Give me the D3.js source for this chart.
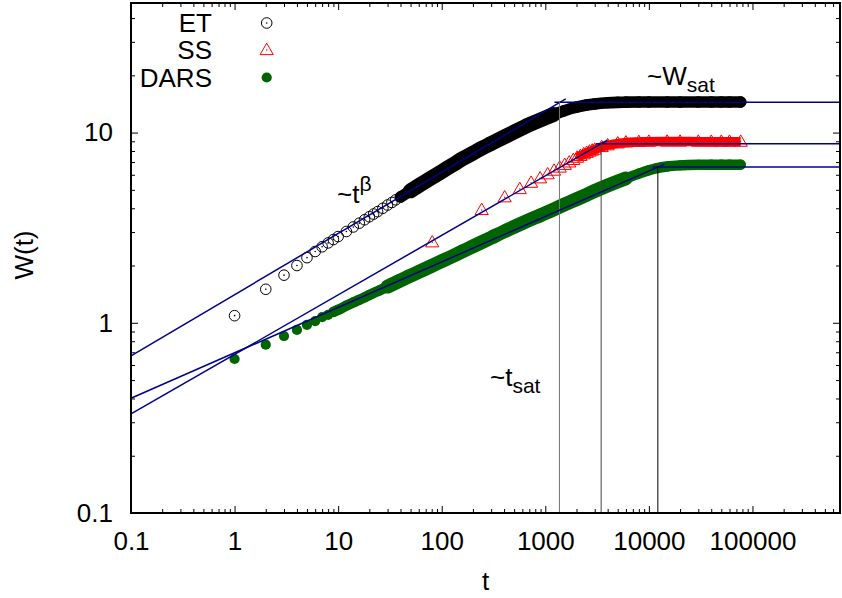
<!DOCTYPE html>
<html>
<head>
<meta charset="utf-8">
<script src="https://cdn.jsdelivr.net/npm/d3@7"></script>
<style>
  body { margin: 0; background: #fff; }
  text { font-family: "Liberation Sans", Arial, sans-serif; }
</style>
</head>
<body>
<div id="chart"></div>
<script>
// ---- data ----
var etT = [1,2,3,4,5,6,7,8,9,10,12,14,16,18,20,22,24,27,30,33,36,40,50,60,80,100,130,160,200,250,300,400,500,600,700,800,1000,1200,1500,2000,2500,3000,4000,5000,6000,8000,10000,15000,20000,30000,40000,50000,60000,77000];
var etW = [1.09,1.50,1.78,2.00,2.20,2.37,2.51,2.63,2.74,2.84,3.02,3.19,3.34,3.48,3.61,3.73,3.84,4.00,4.16,4.29,4.43,4.59,4.94,5.26,5.79,6.24,6.81,7.30,7.80,8.33,8.76,9.48,10.07,10.57,11.0,11.35,11.95,12.45,13.0,13.6,13.95,14.15,14.35,14.42,14.45,14.47,14.48,14.48,14.47,14.48,14.49,14.48,14.48,14.48];

var ssT = [81,243,405,567,729,891,1053,1215,1377,1539,1701,1863,2025,2187,2349,2511,2673,2835,2997,3500,4000,5000,6000,8000,10000,15000,20000,30000,40000,50000,60000,77000];
var ssW = [2.65,3.92,4.57,5.05,5.45,5.75,6.04,6.31,6.55,6.77,6.97,7.18,7.38,7.55,7.70,7.83,7.95,8.05,8.14,8.40,8.58,8.78,8.88,8.93,8.96,8.97,8.97,8.96,8.96,8.96,8.96,8.96];

var darsT = [1,2,3,4,5,6,7,8,9,10,12,14,16,18,20,25,30,40,50,60,80,100,130,160,200,250,300,400,500,600,800,1000,1300,1600,2000,2500,3000,4000,5000,6000,8000,10000,12000,15000,20000,30000,40000,50000,60000,77000];
var darsW = [0.645,0.767,0.852,0.917,0.974,1.02,1.07,1.10,1.14,1.17,1.23,1.28,1.32,1.36,1.40,1.48,1.55,1.67,1.77,1.85,1.99,2.11,2.25,2.38,2.52,2.67,2.80,3.02,3.19,3.34,3.58,3.77,4.02,4.23,4.46,4.71,4.93,5.27,5.53,5.74,6.08,6.33,6.50,6.63,6.72,6.77,6.78,6.78,6.78,6.78];

// power-law fits  W = amp * t^beta  and saturation
var fitAmp  = [1.405, 0.682, 0.695];
var fitBeta = [0.322, 0.313, 0.239];
var tSat    = [1370, 3460, 12200];
var wSat    = [14.43, 8.74, 6.60];

var seriesNames = ["ET", "SS", "DARS"];
var xTicks = [0.1, 1, 10, 100, 1000, 10000, 100000];
var xTickLabels = ["0.1", "1", "10", "100", "1000", "10000", "100000"];
var yTicks = [0.1, 1, 10];
var yTickLabels = ["0.1", "1", "10"];

// ---- chart ----
var width = 842, height = 598;
var padL = 131, padR = 840, padT = 3, padB = 513;
var blue = "#00008b", green = "#006400";

var svg = d3.select("#chart")
  .append("svg")
    .attr("width", width)
    .attr("height", height);

var x = d3.scaleLog().domain([0.1, 7e5]).range([padL, padR]);
var y = d3.scaleLog().domain([0.1, 48]).range([padB, padT]);

// minor tick values
var xMinor = [], yMinor = [];
xTicks.forEach(function(d) {
  for (var k = 2; k < 10; k++) if (d * k < 7e5) xMinor.push(d * k);
});
yTicks.forEach(function(d) {
  for (var k = 2; k < 10; k++) if (d * k < 48) yMinor.push(d * k);
});

function styleAxis(g) {
  g.select(".domain").remove();
  g.selectAll("line").attr("stroke", "#000").attr("stroke-width", 1);
  g.selectAll("text")
    .attr("font-family", "Liberation Sans, Arial, sans-serif")
    .attr("font-size", 26)
    .attr("fill", "#000");
}

// bottom
svg.append("g").attr("transform", "translate(0," + padB + ")")
  .call(d3.axisBottom(x).tickValues(xTicks).tickFormat(function(d, i) { return xTickLabels[i]; })
    .tickSizeInner(-7).tickSizeOuter(0).tickPadding(18.5))
  .call(styleAxis);
svg.append("g").attr("transform", "translate(0," + padB + ")")
  .call(d3.axisBottom(x).tickValues(xMinor).tickFormat("").tickSizeInner(-4).tickSizeOuter(0))
  .call(styleAxis);
// top
svg.append("g").attr("transform", "translate(0," + padT + ")")
  .call(d3.axisTop(x).tickValues(xTicks).tickFormat("").tickSizeInner(-7).tickSizeOuter(0))
  .call(styleAxis);
svg.append("g").attr("transform", "translate(0," + padT + ")")
  .call(d3.axisTop(x).tickValues(xMinor).tickFormat("").tickSizeInner(-4).tickSizeOuter(0))
  .call(styleAxis);
// left
svg.append("g").attr("transform", "translate(" + padL + ",0)")
  .call(d3.axisLeft(y).tickValues(yTicks).tickFormat(function(d, i) { return yTickLabels[i]; })
    .tickSizeInner(-7).tickSizeOuter(0).tickPadding(18))
  .call(styleAxis);
svg.append("g").attr("transform", "translate(" + padL + ",0)")
  .call(d3.axisLeft(y).tickValues(yMinor).tickFormat("").tickSizeInner(-4).tickSizeOuter(0))
  .call(styleAxis);
// right
svg.append("g").attr("transform", "translate(" + padR + ",0)")
  .call(d3.axisRight(y).tickValues(yTicks).tickFormat("").tickSizeInner(-7).tickSizeOuter(0))
  .call(styleAxis);
svg.append("g").attr("transform", "translate(" + padR + ",0)")
  .call(d3.axisRight(y).tickValues(yMinor).tickFormat("").tickSizeInner(-4).tickSizeOuter(0))
  .call(styleAxis);

// axis titles
svg.append("text")
  .attr("x", (padL + padR) / 2).attr("y", 590)
  .attr("text-anchor", "middle").attr("font-size", 26)
  .text("t");
svg.append("text")
  .attr("transform", "translate(33,255) rotate(-90)")
  .attr("text-anchor", "middle").attr("font-size", 26)
  .text("W(t)");

// ---- data marks ----
var ET = etT.map(function(t, i) { return { t: t, w: etW[i] }; });
var SS = ssT.map(function(t, i) { return { t: t, w: ssW[i] }; });
var DARS = darsT.map(function(t, i) { return { t: t, w: darsW[i] }; });

var band = d3.line()
  .x(function(d) { return x(d.t); })
  .y(function(d) { return y(d.w); })
  .curve(d3.curveMonotoneX);

function drawBand(g, pts, color, w, cap) {
  g.append("path")
    .datum(pts)
    .attr("d", band)
    .attr("fill", "none").attr("stroke", color)
    .attr("stroke-width", w).attr("stroke-linecap", cap).attr("stroke-linejoin", "round");
}
function between(a, b) { return function(d) { return d.t >= a && d.t <= b; }; }

var circlePath = "M5.3,0A5.3,5.3 0 1,1 -5.3,0A5.3,5.3 0 1,1 5.3,0Z";
var triPath = "M0,-6.8L6.6,4.6L-6.6,4.6Z";

// ET : open circles with dot (dense points merge into a band)
var gET = svg.append("g");
drawBand(gET, ET.filter(between(40, 1e6)), "#000", 11.6, "round");
drawBand(gET, ET.filter(between(50, 1200)), "#000", 15, "round");
var etPts = gET.selectAll("g.pt").data(ET).enter().append("g")
  .attr("transform", function(d) { return "translate(" + x(d.t) + "," + y(d.w) + ")"; });
etPts.append("path").attr("d", circlePath).attr("fill", "none").attr("stroke", "#000").attr("stroke-width", 1);
etPts.append("circle").attr("r", 0.8).attr("fill", "#000");

// SS : open triangles
var gSS = svg.append("g");
drawBand(gSS, SS.filter(between(2000, 1e6)), "#ff0000", 9.5, "butt");
var ssPts = gSS.selectAll("g.pt").data(SS).enter().append("g")
  .attr("transform", function(d) { return "translate(" + x(d.t) + "," + y(d.w) + ")"; });
ssPts.append("path").attr("d", triPath).attr("fill", "none").attr("stroke", "#ff0000").attr("stroke-width", 1);
ssPts.append("circle").attr("r", 0.7).attr("fill", "#ff0000");

// DARS : filled circles
var gD = svg.append("g");
drawBand(gD, DARS.filter(between(9, 1e6)), green, 10.4, "round");
drawBand(gD, DARS.filter(between(30, 6000)), green, 14, "round");
gD.selectAll("circle").data(DARS).enter().append("circle")
  .attr("cx", function(d) { return x(d.t); })
  .attr("cy", function(d) { return y(d.w); })
  .attr("r", 5.1)
  .attr("fill", green);

// ---- fits: power law, saturation, crossover time ----
var vColors = ["#777", "#444", "#000"];
var gFit = svg.append("g");
seriesNames.forEach(function(name, i) {
  var t0 = 0.1, t1 = tSat[i] * 1.15;
  gFit.append("line")
    .attr("x1", x(t0)).attr("y1", y(fitAmp[i] * Math.pow(t0, fitBeta[i])))
    .attr("x2", x(t1)).attr("y2", y(fitAmp[i] * Math.pow(t1, fitBeta[i])))
    .attr("stroke", blue).attr("stroke-width", 1.5);
  gFit.append("line")
    .attr("x1", x(tSat[i] / 1.12)).attr("y1", y(wSat[i]))
    .attr("x2", padR).attr("y2", y(wSat[i]))
    .attr("stroke", blue).attr("stroke-width", 1.5);
  gFit.append("line")
    .attr("x1", x(tSat[i])).attr("y1", padB)
    .attr("x2", x(tSat[i])).attr("y2", y(wSat[i]))
    .attr("stroke", vColors[i]).attr("stroke-width", 1);
});

// ---- annotations ----
var a1 = svg.append("text").attr("x", 337).attr("y", 203).attr("font-size", 26);
a1.append("tspan").text("~t");
a1.append("tspan").attr("font-size", 21).attr("dy", -12).text("β");

var a2 = svg.append("text").attr("x", 647).attr("y", 85).attr("font-size", 26);
a2.append("tspan").text("~W");
a2.append("tspan").attr("font-size", 21).attr("dy", 7).text("sat");

var a3 = svg.append("text").attr("x", 490).attr("y", 386).attr("font-size", 26);
a3.append("tspan").text("~t");
a3.append("tspan").attr("font-size", 21).attr("dy", 7).text("sat");

// ---- legend ----
var legY = [23, 50, 77.5];
var legend = svg.append("g");
seriesNames.forEach(function(name, i) {
  legend.append("text")
    .attr("x", 212).attr("y", legY[i]).attr("dy", "0.35em")
    .attr("text-anchor", "end").attr("font-size", 26)
    .text(name);
});
var lg0 = legend.append("g").attr("transform", "translate(266.7," + legY[0] + ")");
lg0.append("path").attr("d", circlePath).attr("fill", "none").attr("stroke", "#000");
lg0.append("circle").attr("r", 0.8).attr("fill", "#000");
var lg1 = legend.append("g").attr("transform", "translate(266.7," + legY[1] + ")");
lg1.append("path").attr("d", triPath).attr("fill", "none").attr("stroke", "#ff0000");
lg1.append("circle").attr("r", 0.7).attr("fill", "#ff0000");
legend.append("circle").attr("cx", 266.7).attr("cy", legY[2]).attr("r", 5.1).attr("fill", green);

// ---- border ----
svg.append("rect")
  .attr("x", padL).attr("y", padT)
  .attr("width", padR - padL).attr("height", padB - padT)
  .attr("fill", "none").attr("stroke", "#000").attr("stroke-width", 2);
</script>
</body>
</html>
